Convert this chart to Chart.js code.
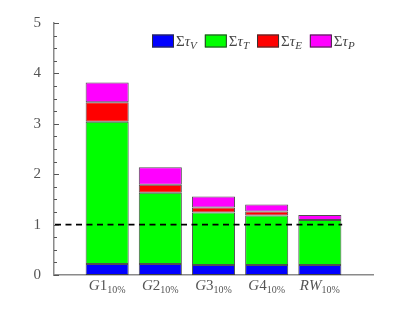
<!DOCTYPE html>
<html>
  <head>
    <style>
      html, body { margin: 0; padding: 0; background: #fff; }
      #wrap { width: 412px; height: 309px; }
      .probe { position: absolute; left: -999px; font-family: "Liberation Serif"; }
    </style>
    <script src="https://cdn.jsdelivr.net/npm/chart.js"></script>
  </head>
  <body>
    <span class="probe">5 <i>G1</i> Στ</span>
    <div id="wrap"><canvas id="tauChart" width="412" height="309"></canvas></div>

    <script>
      // data
      var categories = ['G1', 'G2', 'G3', 'G4', 'RW'];
      var subLabel = '10%';
      var tauV = [0.22, 0.22, 0.20, 0.20, 0.20];
      var tauT = [2.82, 1.41, 1.04, 0.98, 0.89];
      var tauE = [0.39, 0.16, 0.10, 0.08, 0.00];
      var tauP = [0.39, 0.35, 0.22, 0.14, 0.10];
      var seriesSubs = ['V', 'T', 'E', 'P'];
      var seriesColors = ['#0000ff', '#00ff00', '#ff0000', '#ff00ff'];
      var yTicks = [0, 1, 2, 3, 4, 5];
      var threshold = 1;

      var SERIF = '"Liberation Serif", "Times New Roman", serif';

      // an empty slot on each side so the bars sit at 1..5 on a 0..6 axis
      function pad(arr) { return [null].concat(arr, [null]); }
      var labels = [''].concat(categories, ['']);

      var datasets = [tauV, tauT, tauE, tauP].map(function (vals, i) {
        return {
          label: 'Στ' + seriesSubs[i],
          data: pad(vals),
          backgroundColor: seriesColors[i],
          borderColor: 'rgba(50,50,50,0.85)',
          borderWidth: 1,
          borderSkipped: false,
          categoryPercentage: 1,
          barPercentage: 0.81
        };
      });

      // draws a row of text runs; each run: [text, font, dy]
      function drawRuns(ctx, runs, x, y, align) {
        var w = 0;
        runs.forEach(function (r) { ctx.font = r[1]; w += ctx.measureText(r[0]).width; });
        var cx = align === 'center' ? x - w / 2 : x;
        ctx.textAlign = 'left';
        ctx.textBaseline = 'alphabetic';
        runs.forEach(function (r) {
          ctx.font = r[1];
          ctx.fillText(r[0], cx, y + (r[2] || 0));
          cx += ctx.measureText(r[0]).width;
        });
        return w;
      }

      function mathRuns(text, size) {
        var runs = [];
        for (var i = 0; i < text.length; i++) {
          var c = text[i];
          var italic = /[A-Za-z]/.test(c);
          runs.push([c, (italic ? 'italic ' : '') + size + 'px ' + SERIF, 0]);
        }
        return runs;
      }

      var extras = {
        id: 'extras',
        afterDatasetsDraw: function (chart) {
          var ctx = chart.ctx;
          var xs = chart.scales.x, ys = chart.scales.y;
          var yPix = ys.getPixelForValue(threshold);
          ctx.save();
          ctx.strokeStyle = '#000';
          ctx.lineWidth = 1.6;
          ctx.setLineDash([6, 4.5]);
          ctx.beginPath();
          ctx.moveTo(xs.left + 1, yPix);
          ctx.lineTo(xs.getPixelForValue(categories.length + 0.42), yPix);
          ctx.stroke();
          ctx.restore();
        },
        afterDraw: function (chart) {
          var ctx = chart.ctx;
          var xs = chart.scales.x, ys = chart.scales.y;
          ctx.save();
          // inward y ticks, 3 minor ticks between majors
          ctx.strokeStyle = '#555';
          ctx.lineWidth = 1;
          var top = yTicks[yTicks.length - 1];
          for (var k = 0; k <= top * 4; k++) {
            var v = k / 4;
            var py = Math.round(ys.getPixelForValue(v)) + 0.5;
            var len = (k % 4 === 0) ? 5 : 3;
            ctx.beginPath();
            ctx.moveTo(ys.right, py);
            ctx.lineTo(ys.right + len, py);
            ctx.stroke();
          }
          // category labels with subscript
          ctx.fillStyle = '#555';
          categories.forEach(function (c, i) {
            var px = xs.getPixelForValue(i + 1);
            var runs = mathRuns(c, 15);
            runs.push([subLabel, '10px ' + SERIF, 3]);
            drawRuns(ctx, runs, px, 290, 'center');
          });
          // legend
          var lx = 152, ly = 34.5;
          seriesSubs.forEach(function (s, i) {
            ctx.fillStyle = seriesColors[i];
            ctx.fillRect(lx, ly, 22, 13);
            ctx.strokeStyle = '#333';
            ctx.lineWidth = 1;
            ctx.strokeRect(lx + 0.5, ly + 0.5, 21, 12);
            ctx.fillStyle = '#444';
            var w = drawRuns(ctx, [
              ['Σ', '15px ' + SERIF, 0],
              ['τ', 'italic 15px ' + SERIF, 0],
              [s, 'italic 11px ' + SERIF, 3]
            ], lx + 24, ly + 11, 'left');
            lx += 24 + w + 8;
          });
          ctx.restore();
        }
      };

      function draw() {
        var ctx = document.getElementById('tauChart').getContext('2d');
        new Chart(ctx, {
          type: 'bar',
          data: { labels: labels, datasets: datasets },
          options: {
            responsive: false,
            animation: false,
            layout: { padding: { top: 23, right: 39, left: 0, bottom: 0 } },
            plugins: { legend: { display: false }, tooltip: { enabled: false } },
            scales: {
              x: {
                stacked: true,
                offset: false,
                grid: { display: false },
                ticks: { display: false },
                border: { color: '#8a8a8a', width: 1.5 },
                afterFit: function (s) { s.height = 34; }
              },
              y: {
                stacked: true,
                min: yTicks[0],
                max: yTicks[yTicks.length - 1],
                grid: { display: false },
                border: { color: '#8a8a8a', width: 1.5 },
                ticks: {
                  stepSize: 1,
                  padding: 5,
                  color: '#555',
                  font: { family: SERIF, size: 15 }
                },
                afterFit: function (s) { s.width = 54; }
              }
            }
          },
          plugins: [extras]
        });
      }

      if (document.fonts && document.fonts.load) {
        Promise.all([
          document.fonts.load('15px "Liberation Serif"'),
          document.fonts.load('italic 15px "Liberation Serif"')
        ]).then(draw, draw);
      } else {
        draw();
      }
    </script>
  </body>
</html>
